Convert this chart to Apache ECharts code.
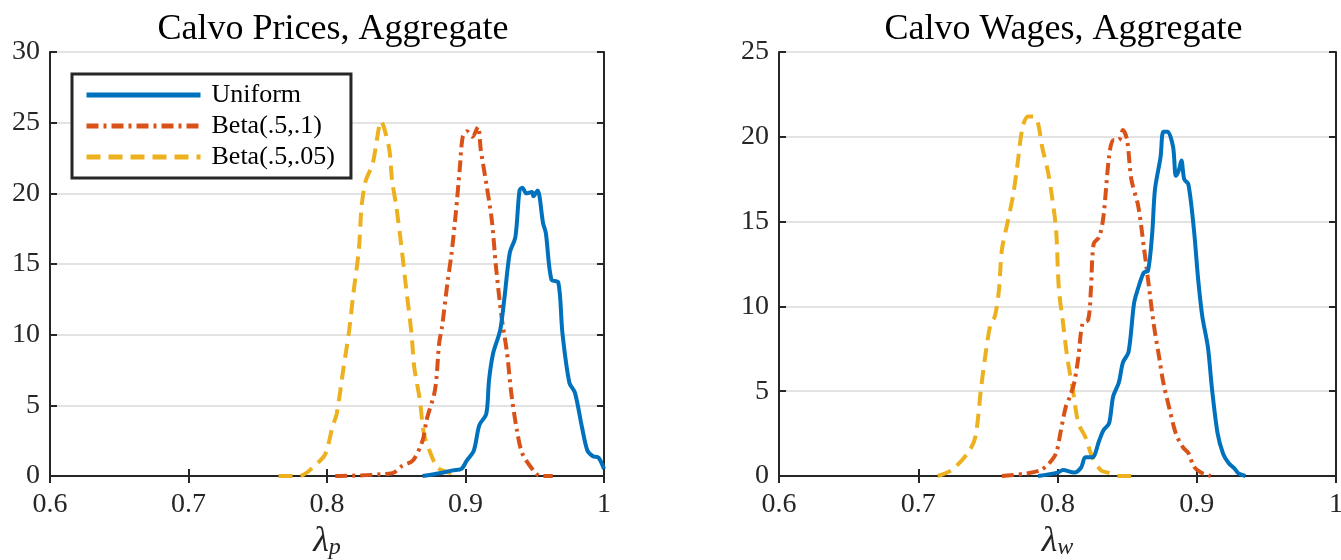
<!DOCTYPE html>
<html>
<head>
<meta charset="utf-8">
<script src="https://cdn.jsdelivr.net/npm/echarts@6/dist/echarts.min.js"></script>
<style>
  html, body { margin: 0; padding: 0; background: #fff; }
  #chart { width: 1341px; height: 560px; }
</style>
</head>
<body>
<div id="chart"></div>
<script>
const seriesNames = ['Uniform', 'Beta(.5,.1)', 'Beta(.5,.05)']
const panelTitles = ['Calvo Prices, Aggregate', 'Calvo Wages, Aggregate']
const xTicks = [0.6, 0.7, 0.8, 0.9, 1]

// Calvo prices
const pUniformX = [0.869, 0.881, 0.891, 0.897, 0.901, 0.906, 0.910, 0.915, 0.917, 0.920, 0.925, 0.928, 0.932, 0.936, 0.939, 0.941, 0.944, 0.948, 0.949, 0.952, 0.956, 0.958, 0.962, 0.967, 0.970, 0.975, 0.979, 0.984, 0.988, 0.992, 0.996, 1.0]
const pUniformY = [0, 0.2, 0.4, 0.5, 1.1, 1.8, 3.6, 4.4, 6.8, 8.7, 10.3, 12.5, 15.8, 16.9, 20.2, 20.4, 20.0, 20.1, 19.8, 20.2, 17.9, 17.2, 13.9, 13.7, 10.1, 6.6, 5.9, 3.5, 1.8, 1.4, 1.3, 0.5]
const pBeta1X = [0.806, 0.847, 0.854, 0.862, 0.869, 0.872, 0.878, 0.881, 0.883, 0.887, 0.890, 0.893, 0.896, 0.898, 0.901, 0.905, 0.909, 0.911, 0.915, 0.919, 0.922, 0.926, 0.930, 0.933, 0.937, 0.941, 0.949, 0.954, 0.963]
const pBeta1Y = [0, 0.2, 0.7, 1.1, 2.5, 4.0, 6.1, 9.4, 10.5, 13.7, 15.8, 18.6, 21.9, 24.0, 24.4, 24.0, 24.7, 23.1, 20.7, 18.1, 14.8, 11.3, 8.7, 5.9, 3.3, 1.6, 0.4, 0, 0]
const pBeta05X = [0.765, 0.780, 0.793, 0.799, 0.804, 0.807, 0.812, 0.816, 0.819, 0.823, 0.825, 0.828, 0.833, 0.836, 0.839, 0.841, 0.845, 0.847, 0.850, 0.854, 0.857, 0.861, 0.863, 0.867, 0.870, 0.874, 0.879, 0.883, 0.890]
const pBeta05Y = [0, 0, 0.9, 1.6, 3.5, 4.4, 7.7, 10.3, 12.9, 16.0, 19.1, 20.9, 22.1, 23.8, 25.1, 24.7, 23.1, 20.9, 19.1, 16.0, 13.4, 10.1, 7.7, 5.4, 3.0, 1.8, 0.7, 0.4, 0.2]

// Calvo wages
const wUniformX = [0.786, 0.800, 0.804, 0.812, 0.817, 0.820, 0.825, 0.830, 0.833, 0.837, 0.840, 0.844, 0.847, 0.851, 0.855, 0.858, 0.862, 0.865, 0.868, 0.870, 0.874, 0.876, 0.879, 0.883, 0.885, 0.887, 0.889, 0.891, 0.894, 0.898, 0.901, 0.904, 0.908, 0.911, 0.915, 0.919, 0.923, 0.927, 0.930, 0.935]
const wUniformY = [0, 0.2, 0.35, 0.2, 0.5, 1.1, 1.1, 2.1, 2.7, 3.1, 4.7, 5.5, 6.7, 7.3, 10.2, 11.1, 12.0, 12.1, 14.3, 16.9, 18.8, 20.3, 20.3, 19.4, 17.7, 18.0, 18.6, 17.5, 17.2, 14.5, 11.6, 9.4, 7.6, 5.1, 2.5, 1.3, 0.75, 0.45, 0.15, 0]
const wBeta1X = [0.760, 0.778, 0.788, 0.794, 0.799, 0.802, 0.806, 0.809, 0.812, 0.815, 0.818, 0.822, 0.824, 0.826, 0.830, 0.833, 0.837, 0.840, 0.844, 0.847, 0.850, 0.853, 0.858, 0.862, 0.865, 0.869, 0.873, 0.876, 0.880, 0.885, 0.890, 0.894, 0.898, 0.903, 0.910]
const wBeta1Y = [0, 0.15, 0.35, 0.75, 1.35, 2.5, 4.1, 4.7, 5.5, 7.0, 9.0, 9.2, 11.0, 13.7, 14.1, 15.3, 18.8, 19.8, 19.8, 20.4, 19.8, 17.5, 15.9, 13.5, 11.6, 9.0, 7.0, 5.5, 4.1, 2.5, 1.7, 1.35, 0.55, 0.2, 0]
const wBeta05X = [0.714, 0.724, 0.736, 0.741, 0.745, 0.748, 0.752, 0.755, 0.758, 0.760, 0.764, 0.768, 0.771, 0.775, 0.779, 0.783, 0.786, 0.789, 0.793, 0.796, 0.799, 0.801, 0.804, 0.807, 0.811, 0.815, 0.820, 0.825, 0.831, 0.836, 0.845, 0.858]
const wBeta05Y = [0, 0.35, 1.4, 2.3, 5.1, 7.0, 9.0, 9.4, 11.0, 13.3, 14.9, 16.5, 18.2, 20.6, 21.2, 21.2, 20.8, 19.4, 18.0, 16.5, 14.5, 11.0, 9.0, 7.0, 5.1, 3.1, 2.3, 1.1, 0.35, 0.2, 0, 0]

const yMax = [30, 25]

function zip(xs, ys) {
  return xs.map((x, i) => [x, ys[i]])
}

const colors = ['#0072BD', '#D95319', '#EDB120']
const lineTypes = ['solid', [12, 5, 3, 5], [14, 8]]
const serif = 'Liberation Serif'
const ink = '#262626'

const panels = [
  [zip(pUniformX, pUniformY), zip(pBeta1X, pBeta1Y), zip(pBeta05X, pBeta05Y)],
  [zip(wUniformX, wUniformY), zip(wBeta1X, wBeta1Y), zip(wBeta05X, wBeta05Y)]
]
const grids = [
  { left: 50, width: 554, top: 52, height: 424, outerBoundsMode: 'none' },
  { left: 779, width: 557, top: 52, height: 424, outerBoundsMode: 'none' }
]

const xAxes = []
const yAxes = []
const series = []
grids.forEach((g, i) => {
  const sub = i === 0 ? 'p' : 'w'
  xAxes.push({
    type: 'value', gridIndex: i, min: 0.6, max: 1, interval: 0.1,
    axisLine: { lineStyle: { color: ink, width: 2 } },
    axisTick: { inside: true, length: 7, lineStyle: { color: ink, width: 2 } },
    axisLabel: { color: ink, fontFamily: serif, fontSize: 28, margin: 15,
      formatter: v => xTicks.indexOf(v) >= 0 ? (v === 1 ? '1' : String(v)) : '' },
    splitLine: { show: false },
    name: '{l|λ}{s|' + sub + '}', nameLocation: 'middle', nameGap: 47,
    nameTextStyle: {
      rich: {
        l: { fontFamily: serif, fontStyle: 'italic', fontSize: 36, color: ink, verticalAlign: 'bottom', lineHeight: 36 },
        s: { fontFamily: serif, fontStyle: 'italic', fontSize: 24, color: ink, verticalAlign: 'bottom', lineHeight: 18 }
      }
    }
  })
  xAxes.push({
    type: 'value', gridIndex: i, min: 0.6, max: 1, interval: 0.1, position: 'top',
    axisLine: { lineStyle: { color: ink, width: 2 } },
    axisTick: { inside: true, length: 7, lineStyle: { color: ink, width: 2 } },
    axisLabel: { show: false }, splitLine: { show: false }
  })
  yAxes.push({
    type: 'value', gridIndex: i, min: 0, max: yMax[i], interval: 5,
    axisLine: { show: true, lineStyle: { color: ink, width: 2 } },
    axisTick: { show: true, inside: true, length: 7, lineStyle: { color: ink, width: 2 } },
    axisLabel: { color: ink, fontFamily: serif, fontSize: 28, margin: 10 },
    splitLine: { show: true, lineStyle: { color: '#e3e3e3', width: 2 } }
  })
  yAxes.push({
    type: 'value', gridIndex: i, min: 0, max: yMax[i], interval: 5, position: 'right',
    axisLine: { show: true, lineStyle: { color: ink, width: 2 } },
    axisTick: { show: true, inside: true, length: 7, lineStyle: { color: ink, width: 2 } },
    axisLabel: { show: false }, splitLine: { show: false }
  })
  panels[i].forEach((data, k) => {
    series.push({
      name: seriesNames[k], type: 'line', xAxisIndex: i * 2, yAxisIndex: i * 2,
      data: data, smooth: 0.3, symbol: 'none', z: 5 - k,
      lineStyle: { color: colors[k], width: 4, type: lineTypes[k] },
      itemStyle: { color: colors[k] }
    })
  })
})

const chart = echarts.init(document.getElementById('chart'))
chart.setOption({
  animation: false,
  backgroundColor: '#fff',
  title: panelTitles.map((t, i) => ({
    text: t, left: grids[i].left + grids[i].width / 2 + 1, textAlign: 'center', top: 7,
    textStyle: { fontFamily: serif, fontSize: 36, fontWeight: 'normal', color: '#000' }
  })),
  legend: {
    data: seriesNames, orient: 'vertical', left: 72, top: 74,
    backgroundColor: '#fff', borderColor: ink, borderWidth: 3,
    padding: [8, 16, 8, 12], itemGap: 5, itemWidth: 114, itemHeight: 18,
    itemStyle: { color: 'rgba(0,0,0,0)', borderWidth: 0 },
    lineStyle: { width: 5 },
    textStyle: { fontFamily: serif, fontSize: 26, color: '#000', padding: [0, 0, 0, 6] }
  },
  grid: grids,
  xAxis: xAxes,
  yAxis: yAxes,
  series: series
})
</script>
</body>
</html>
